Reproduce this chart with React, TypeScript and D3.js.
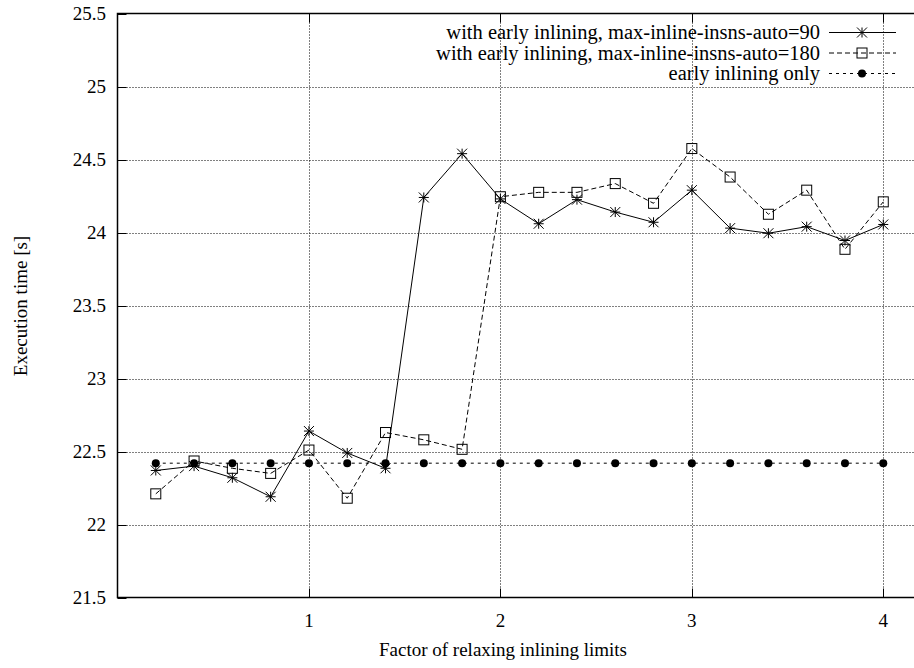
import React from "react";
import * as d3 from "d3";

const xValues = [0.2, 0.4, 0.6, 0.8, 1.0, 1.2, 1.4, 1.6, 1.8, 2.0, 2.2, 2.4, 2.6, 2.8, 3.0, 3.2, 3.4, 3.6, 3.8, 4.0];
const seriesAuto90 = [22.37, 22.40, 22.32, 22.19, 22.64, 22.49, 22.385, 24.24, 24.54, 24.23, 24.06, 24.225, 24.14, 24.07, 24.29, 24.03, 23.995, 24.04, 23.945, 24.055];
const seriesAuto180 = [22.21, 22.435, 22.385, 22.35, 22.51, 22.18, 22.63, 22.58, 22.515, 24.245, 24.275, 24.275, 24.335, 24.20, 24.575, 24.38, 24.125, 24.29, 23.885, 24.21];
const seriesEarlyOnly = [22.42, 22.42, 22.42, 22.42, 22.42, 22.42, 22.42, 22.42, 22.42, 22.42, 22.42, 22.42, 22.42, 22.42, 22.42, 22.42, 22.42, 22.42, 22.42, 22.42];
const seriesNames = [
  "with early inlining, max-inline-insns-auto=90",
  "with early inlining, max-inline-insns-auto=180",
  "early inlining only",
];
const xTicks = [1, 2, 3, 4];
const yTicks = [21.5, 22, 22.5, 23, 23.5, 24, 24.5, 25, 25.5];
const xTitle = "Factor of relaxing inlining limits";
const yTitle = "Execution time [s]";

const W = 914;
const H = 668;
const L = 117.5;
const R = 914;
const T = 13.5;
const B = 597.5;
const FONT = '"Liberation Serif", serif';

function Star({ x, y, s = 5 }: { x: number; y: number; s?: number }) {
  return (
    <g stroke="#000" strokeWidth={1}>
      <line x1={x - s} y1={y} x2={x + s} y2={y} />
      <line x1={x} y1={y - s} x2={x} y2={y + s} />
      <line x1={x - s} y1={y - s} x2={x + s} y2={y + s} />
      <line x1={x - s} y1={y + s} x2={x + s} y2={y - s} />
    </g>
  );
}
function Square({ x, y, s = 5 }: { x: number; y: number; s?: number }) {
  return <rect x={x - s} y={y - s} width={2 * s} height={2 * s} fill="none" stroke="#000" strokeWidth={1} />;
}
function Dot({ x, y }: { x: number; y: number }) {
  return <circle cx={x} cy={y} r={4} fill="#000" />;
}

export default function App() {
  const xScale = d3.scaleLinear().domain([0, 4.1605]).range([L, R]);
  const yScale = d3.scaleLinear().domain([21.5, 25.5]).range([B, T]);
  const line = d3
    .line<number>()
    .x((_, i) => xScale(xValues[i]))
    .y((d) => yScale(d));

  const series = [
    { data: seriesAuto90, dash: undefined as string | undefined, marker: "star" },
    { data: seriesAuto180, dash: "5,3", marker: "square" },
    { data: seriesEarlyOnly, dash: "3,4", marker: "dot" },
  ];

  const drawMarker = (m: string, x: number, y: number, k: string) =>
    m === "star" ? <Star key={k} x={x} y={y} /> : m === "square" ? <Square key={k} x={x} y={y} /> : <Dot key={k} x={x} y={y} />;

  const legendY = [32.5, 53, 73.5];
  const fs = 19;
  const lfs = 20.5;

  return (
    <svg width={W} height={H} style={{ position: "absolute", left: 0, top: 0, background: "#fff" }}>
      <rect x={0} y={0} width={W} height={H} fill="#fff" />
      <g stroke="#000" strokeWidth={1} strokeDasharray="1,2">
        {yTicks.slice(1, -1).map((t) => (
          <line key={"gy" + t} x1={L} x2={R} y1={Math.round(yScale(t)) + 0.5} y2={Math.round(yScale(t)) + 0.5} />
        ))}
        {xTicks.map((t) => (
          <line key={"gx" + t} x1={Math.round(xScale(t)) + 0.5} x2={Math.round(xScale(t)) + 0.5} y1={T} y2={B} />
        ))}
      </g>
      <g stroke="#000" strokeWidth={1}>
        {yTicks.map((t) => (
          <line key={"ty" + t} x1={L} x2={L + 9} y1={Math.round(yScale(t)) + 0.5} y2={Math.round(yScale(t)) + 0.5} />
        ))}
        {xTicks.map((t) => (
          <g key={"tx" + t}>
            <line x1={Math.round(xScale(t)) + 0.5} x2={Math.round(xScale(t)) + 0.5} y1={B} y2={B - 9} />
            <line x1={Math.round(xScale(t)) + 0.5} x2={Math.round(xScale(t)) + 0.5} y1={T} y2={T + 9} />
          </g>
        ))}
      </g>
      <path d={`M${R},${T}H${L}V${B}H${R}`} fill="none" stroke="#000" strokeWidth={1.5} />
      <g style={{ fontFamily: FONT, fontSize: fs }} fill="#000">
        {yTicks.map((t) => (
          <text key={"ly" + t} x={106} y={yScale(t)} dy="0.35em" textAnchor="end">
            {String(t)}
          </text>
        ))}
        {xTicks.map((t) => (
          <text key={"lx" + t} x={xScale(t)} y={627} textAnchor="middle">
            {String(t)}
          </text>
        ))}
        <text x={503} y={656} textAnchor="middle">{xTitle}</text>
        <text transform={`translate(27,306) rotate(-90)`} textAnchor="middle">{yTitle}</text>
      </g>
      {series.map((s, si) => (
        <g key={"s" + si}>
          <path d={line(s.data) || ""} fill="none" stroke="#000" strokeWidth={1} strokeDasharray={s.dash} />
          {s.data.map((v, i) => drawMarker(s.marker, xScale(xValues[i]), yScale(v), `m${si}-${i}`))}
        </g>
      ))}
      <g style={{ fontFamily: FONT, fontSize: lfs }} fill="#000">
        {series.map((s, si) => (
          <g key={"lg" + si}>
            <text x={820} y={legendY[si]} dy="0.33em" textAnchor="end">{seriesNames[si]}</text>
            <line x1={829} x2={896} y1={legendY[si]} y2={legendY[si]} stroke="#000" strokeWidth={1} strokeDasharray={s.dash} />
            {drawMarker(s.marker, 862, legendY[si], "lm" + si)}
          </g>
        ))}
      </g>
    </svg>
  );
}
